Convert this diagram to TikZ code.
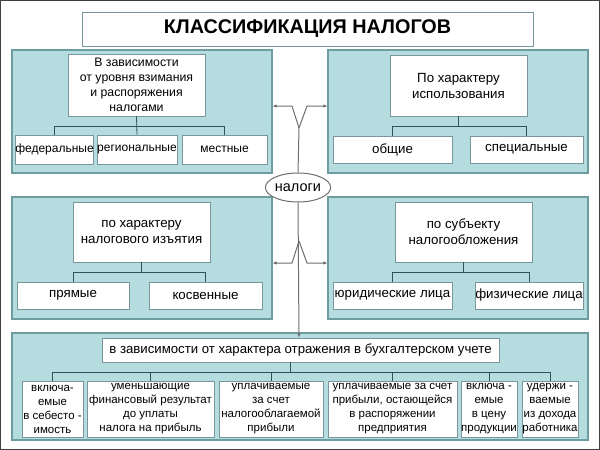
\documentclass[tikz,border=0pt]{standalone}
\usepackage{fontspec}
\setmainfont{Liberation Sans}
\usetikzlibrary{arrows.meta,shapes.geometric}
\definecolor{panelfill}{RGB}{181,220,223}
\definecolor{paneldraw}{RGB}{110,157,160}
\definecolor{boxdraw}{RGB}{120,150,155}
\definecolor{linecol}{RGB}{45,85,88}
\definecolor{centercol}{RGB}{110,110,110}
\begin{document}
\begin{tikzpicture}[x=1pt,y=-1pt,
  panel/.style={draw=paneldraw,fill=panelfill,line width=1.2pt,inner sep=0pt},
  wbox/.style={draw=boxdraw,fill=white,line width=0.9pt,inner sep=0pt,align=center,
    font=\fontsize{12}{15}\selectfont},
  lbox/.style={wbox,font=\fontsize{13.3}{16}\selectfont},
  sbox/.style={wbox,font=\fontsize{11.5}{14}\selectfont},
  tree/.style={draw=linecol,line width=0.8pt},
  cline/.style={draw=centercol,line width=1pt},
  carrow/.style={cline,-{Latex[length=4pt,width=3.5pt]}}
]
\useasboundingbox (0,0) rectangle (600,450);
\draw[draw=black!75,line width=1.2pt] (0.8,0.8) rectangle (599.2,449.2);

% title
\node[wbox,minimum width=451pt,minimum height=34pt,font=\fontsize{19.8}{22}\selectfont\bfseries] (title) at (307.5,29) {КЛАССИФИКАЦИЯ НАЛОГОВ};

% panels
\node[panel,minimum width=260pt,minimum height=123pt] (P1) at (142,111.5) {};
\node[panel,minimum width=260pt,minimum height=123pt] (P2) at (458,111.5) {};
\node[panel,minimum width=260pt,minimum height=122pt] (P3) at (142,258) {};
\node[panel,minimum width=260pt,minimum height=122pt] (P4) at (458,258) {};
\node[panel,minimum width=576pt,minimum height=107pt] (P5) at (300,386.5) {};

% panel 1
\node[wbox,minimum width=137pt,minimum height=62pt,font=\fontsize{12.3}{15}\selectfont] (A) at (136.5,85) {В зависимости\\от уровня взимания\\и распоряжения\\налогами};
\node[wbox,minimum width=75pt,minimum height=29pt] (A1) at (54.5,149.5) {федеральные};
\node[wbox,minimum width=80pt,minimum height=29pt] (A2) at (137,149.5) {региональные};
\node[wbox,minimum width=85pt,minimum height=29pt] (A3) at (224.5,149.5) {местные};
\coordinate (busA) at (0,126);
\draw[tree] (A1.north) -- (A1.north |- busA) -- (A3.north |- busA) -- (A3.north);
\draw[tree] (A.south) -- (A2.north);

% panel 2
\node[lbox,minimum width=137pt,minimum height=61pt] (B) at (458.5,85.5) {По характеру\\использования};
\node[lbox,minimum width=119pt,minimum height=27pt] (B1) at (392.5,149.5) {общие};
\node[lbox,minimum width=113pt,minimum height=27pt] (B2) at (526.5,149.5) {специальные};
\coordinate (busB) at (0,126);
\draw[tree] (B1.north) -- (B1.north |- busB) -- (B2.north |- busB) -- (B2.north);
\draw[tree] (B.south) -- (B.south |- busB);

% panel 3
\node[lbox,minimum width=137pt,minimum height=60pt] (C) at (141.5,232) {по характеру\\налогового изъятия};
\node[lbox,minimum width=112pt,minimum height=27pt] (C1) at (73,295.5) {прямые};
\node[lbox,minimum width=113pt,minimum height=27pt] (C2) at (205.5,295.5) {косвенные};
\coordinate (busC) at (0,272);
\draw[tree] (C1.north) -- (C1.north |- busC) -- (C2.north |- busC) -- (C2.north);
\draw[tree] (C.south) -- (C.south |- busC);

% panel 4
\node[lbox,minimum width=137pt,minimum height=60pt] (D) at (463.5,232) {по субъекту\\налогообложения};
\node[lbox,minimum width=119pt,minimum height=27pt] (D1) at (392.5,295.5) {юридические лица};
\node[lbox,minimum width=108pt,minimum height=27pt] (D2) at (529,295.5) {физические лица};
\coordinate (busD) at (0,272.5);
\draw[tree] (D1.north) -- (D1.north |- busD) -- (D2.north |- busD) -- (D2.north);
\draw[tree] (D.south) -- (D.south |- busD);

% panel 5
\node[wbox,minimum width=397pt,minimum height=24pt,font=\fontsize{13.2}{15}\selectfont] (E) at (300.5,350) {в зависимости от характера отражения в бухгалтерском учете};
\node[sbox,minimum width=61pt,minimum height=56pt] (E1) at (52.5,409) {включа-\\емые\\в себесто -\\имость};
\node[sbox,minimum width=127pt,minimum height=56pt] (E2) at (150.5,409) {уменьшающие\\финансовый результат\\до уплаты\\налога на прибыль};
\node[sbox,minimum width=104pt,minimum height=56pt] (E3) at (271,409) {уплачиваемые\\за счет\\налогооблагаемой\\прибыли};
\node[sbox,minimum width=129pt,minimum height=56pt] (E4) at (392.5,409) {уплачиваемые за счет\\прибыли, остающейся\\в распоряжении\\предприятия};
\node[sbox,minimum width=56pt,minimum height=56pt] (E5) at (489,409) {включа -\\емые\\в цену\\продукции};
\node[sbox,minimum width=56pt,minimum height=56pt] (E6) at (550,409) {удержи -\\ваемые\\из дохода\\работника};
\coordinate (busE) at (0,372);
\draw[tree] (E1.north) -- (E1.north |- busE) -- (E6.north |- busE) -- (E6.north);
\foreach \n in {E2,E3,E4,E5} \draw[tree] (\n.north) -- (\n.north |- busE);
\draw[tree] (E.south) ++(-10,0) -- ++(0,10);

% center
\node[draw=centercol,fill=white,ellipse,line width=1pt,inner sep=0pt,minimum width=52pt,minimum height=29pt,font=\fontsize{14.5}{16}\selectfont] (N) at (298,187.5) {налоги};
\coordinate (vU) at (299,128);
\coordinate (vUL) at (292,106);
\coordinate (vUR) at (307,106);
\coordinate (vD) at (299,241);
\coordinate (vDL) at (292,263);
\coordinate (vDR) at (307,263);
\draw[cline] (N.north) -- (vU);
\draw[carrow] (vU) -- (vUL) -- (P1.east |- vUL);
\draw[carrow] (vU) -- (vUR) -- (P2.west |- vUR);
\draw[carrow] (N.south) -- (E.north -| vD);
\draw[carrow] (vD) -- (vDL) -- (P3.east |- vDL);
\draw[carrow] (vD) -- (vDR) -- (P4.west |- vDR);
\end{tikzpicture}
\end{document}
